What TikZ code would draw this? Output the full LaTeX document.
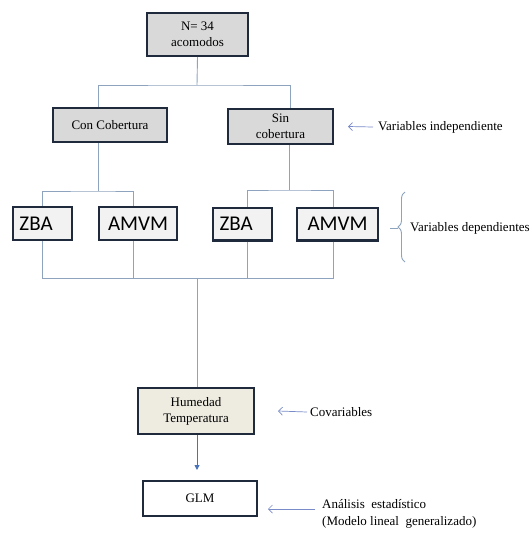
\documentclass[tikz,border=0pt]{standalone}
\usepackage{fontspec}
\setmainfont{Liberation Serif}
\newfontfamily\calibrifont{Carlito}
\usepackage{tikz}
\usetikzlibrary{arrows.meta, decorations.pathreplacing}
\usepackage{xcolor}

\definecolor{boxline}{HTML}{1F2B3C}
\definecolor{linkblue}{HTML}{8EA3BE}
\definecolor{arrowblue}{HTML}{4A72B8}
\definecolor{grayfill}{HTML}{D9D9D9}
\definecolor{palefill}{HTML}{F2F2F2}
\definecolor{beigefill}{HTML}{EEECE1}

\begin{document}
\begin{tikzpicture}[x=1pt, y=-1pt,
        box/.style={draw=boxline, line width=2.4pt, align=center, inner sep=0pt,
            font=\rmfamily\fontsize{13}{16}\selectfont},
        varbox/.style={box, fill=palefill, minimum height=32.6pt,
            font=\calibrifont\fontsize{21}{24}\selectfont},
        link/.style={draw=linkblue, line width=0.9pt},
        pointer/.style={draw=linkblue!85!blue, line width=0.7pt,
            -{Straight Barb[length=4pt, width=8pt]}},
        note/.style={anchor=west, inner sep=0pt, align=left,
            font=\rmfamily\fontsize{13}{17}\selectfont}]
        \useasboundingbox (0,0) rectangle (532,533);
        % Boxes
        \node [box, fill=grayfill, minimum width=100.6pt, minimum height=42.6pt] (top) at (197.5,34.5) {N= 34\\acomodos};
        \node [box, fill=grayfill, minimum width=113.6pt, minimum height=33.6pt] (con) at (110,125) {Con Cobertura};
        \node [box, fill=grayfill, minimum width=104.6pt, minimum height=34.6pt] (sin) at (280.5,126.5) {Sin\\cobertura};
        \node [varbox, minimum width=58.6pt, text width=46pt, align=left] (zbaA) at (42.5,223.5) {ZBA};
        \node [varbox, minimum width=77.6pt] (amvmA) at (138,223.5) {AMVM};
        \node [varbox, minimum width=58.6pt, text width=46pt, align=left] (zbaB) at (242.5,224) {ZBA};
        \node [varbox, minimum width=80.6pt] (amvmB) at (337.5,224) {AMVM};
        \node [box, fill=beigefill, minimum width=115.6pt, minimum height=45.6pt] (hum) at (196,411) {Humedad\\Temperatura};
        \node [box, fill=white, minimum width=113.6pt, minimum height=34.6pt] (glm) at (200,498.5) {GLM};
        % Labels
        \node [note] (indep) at (378,127) {Variables independiente};
        \node [note] (dep) at (410,228) {Variables dependientes};
        \node [note] (cov) at (310,412) {Covariables};
        \node [note] (stat) at (322,513.5) {An\'alisis\ \ estad\'istico\\(Modelo lineal\ \ generalizado)};
        % Junctions
        \coordinate (fanTop) at (197,85);
        \coordinate (fanCon) at (98,191);
        \coordinate (fanSin) at (289,190);
        \coordinate (merge) at (197,278);
        \coordinate (braceLow) at (405,262);
        \coordinate (braceHigh) at (405,192);
        % Tree lines
        \draw [link] (top.south) -- (fanTop);
        \draw [link] ([xshift=-12pt]con.north) |- (fanTop) -| ([xshift=9.5pt]sin.north);
        \draw [link] ([xshift=-12pt]con.south) -- (fanCon);
        \draw [link] (zbaA.north) |- (fanCon) -| ([xshift=-5pt]amvmA.north);
        \draw [link] ([xshift=8.5pt]sin.south) -- (fanSin);
        \draw [link] ([xshift=4.5pt]zbaB.north) |- (fanSin) -| ([xshift=-4.5pt]amvmB.north);
        \draw [link] (zbaA.south) |- (merge);
        \draw [link] ([xshift=-4.5pt]amvmB.south) |- (merge);
        \draw [link] ([xshift=-5pt]amvmA.south) -- ([xshift=-5pt]amvmA.south |- merge);
        \draw [link] ([xshift=4.5pt]zbaB.south) -- ([xshift=4.5pt]zbaB.south |- merge);
        \draw [link] (merge) -- (merge |- hum.north);
        \draw [draw=arrowblue, line width=0.9pt, -{Triangle[length=5pt, width=5pt]}]
            ([xshift=1pt]hum.south) -- ([xshift=1pt, yshift=10pt]hum.south |- glm.north);
        % Pointers
        \draw [pointer] ([xshift=-5pt]indep.west) -- ([xshift=14pt]sin.east);
        \draw [pointer] ([xshift=-3pt]cov.west) -- ([xshift=23pt]hum.east);
        \draw [pointer] ([xshift=-7pt, yshift=4.5pt]stat.west) -- ([xshift=10pt, yshift=-10.5pt]glm.east);
        % Brace
        \draw [linkblue, line width=0.9pt, decorate, decoration={brace, amplitude=7pt}] (braceLow) -- (braceHigh);
        \draw [linkblue, line width=0.9pt] ([xshift=-7pt]braceLow |- dep.west) -- ++(-8,0);
\end{tikzpicture}
\end{document}
